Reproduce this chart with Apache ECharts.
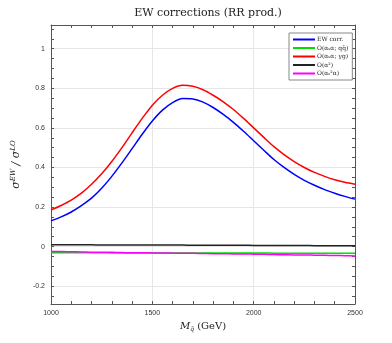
<!DOCTYPE html>
<html>
<head>
<meta charset="utf-8">
<script src="https://cdn.jsdelivr.net/npm/echarts@6/dist/echarts.min.js"></script>
<style>
  html, body { margin: 0; padding: 0; background: #fff; }
  #main { width: 392px; height: 343px; }
</style>
</head>
<body>
<div id="main"></div>
<script>
// squark mass (GeV), every 50 GeV from 1000 to 2500
var masses = [1000, 1050, 1100, 1150, 1200, 1250, 1300, 1350, 1400, 1450, 1500, 1550, 1600, 1650, 1700, 1750,
  1800, 1850, 1900, 1950, 2000, 2050, 2100, 2150, 2200, 2250, 2300, 2350, 2400, 2450, 2500];

// relative corrections sigma^EW / sigma^LO
var ewCorr = [0.13, 0.15, 0.175, 0.207, 0.245, 0.295, 0.355, 0.423, 0.495, 0.568, 0.635, 0.69, 0.728, 0.748, 0.746, 0.73,
  0.703, 0.668, 0.628, 0.583, 0.535, 0.487, 0.44, 0.40, 0.365, 0.335, 0.31, 0.288, 0.27, 0.254, 0.24];
var asAqq = [-0.031, -0.031, -0.031, -0.031, -0.031, -0.031, -0.032, -0.032, -0.032, -0.032, -0.032, -0.032, -0.032, -0.032, -0.032, -0.032,
  -0.032, -0.032, -0.032, -0.032, -0.032, -0.032, -0.033, -0.033, -0.033, -0.033, -0.033, -0.033, -0.033, -0.033, -0.033];
var asAgam = [0.185, 0.208, 0.235, 0.27, 0.315, 0.368, 0.43, 0.50, 0.575, 0.648, 0.715, 0.765, 0.80, 0.815, 0.81, 0.793,
  0.765, 0.732, 0.693, 0.648, 0.60, 0.552, 0.505, 0.465, 0.43, 0.40, 0.375, 0.355, 0.338, 0.325, 0.315];
var alpha2 = [0.009, 0.009, 0.009, 0.009, 0.009, 0.008, 0.008, 0.008, 0.008, 0.008, 0.008, 0.008, 0.008, 0.008, 0.007, 0.007,
  0.007, 0.007, 0.007, 0.007, 0.006, 0.006, 0.006, 0.006, 0.006, 0.006, 0.005, 0.005, 0.005, 0.005, 0.005];
var as2alpha = [-0.025, -0.025, -0.026, -0.027, -0.028, -0.028, -0.029, -0.030, -0.031, -0.031, -0.032, -0.032, -0.033, -0.034, -0.034, -0.035,
  -0.036, -0.036, -0.037, -0.037, -0.038, -0.039, -0.040, -0.041, -0.042, -0.042, -0.043, -0.044, -0.045, -0.046, -0.047];

var seriesNames = ['EW corr.', 'O(αₛα; qq̄)', 'O(αₛα; γg)', 'O(α²)', 'O(αₛ²α)'];
var seriesColors = ['#0000ff', '#00e000', '#ff0000', '#222222', '#ff00ff'];
var seriesData = [ewCorr, asAqq, asAgam, alpha2, as2alpha];

var yLabels = [-0.2, 0, 0.2, 0.4, 0.6, 0.8, 1];
var yTicks = [];
for (var i = -5; i <= 22; i++) yTicks.push(+(i * 0.05).toFixed(2));

function pairs(ys) {
  return masses.map(function (m, i) { return [m, ys[i]]; });
}

var frame = { show: true, onZero: false, lineStyle: { color: '#555', width: 1 } };
var tick = { inside: true, length: 3, lineStyle: { color: '#555' } };
var serif = 'DejaVu Serif';

// extra y axis used only to carry ticks (minor ones included)
function tickAxis(pos, withLine) {
  return {
    type: 'value',
    position: pos,
    min: -0.29,
    max: 1.12,
    axisLine: withLine ? frame : { show: false },
    axisTick: Object.assign({ customValues: yTicks }, tick),
    axisLabel: { show: false },
    splitLine: { show: false }
  };
}

var chart = echarts.init(document.getElementById('main'));

chart.setOption({
  animation: false,
  title: {
    text: 'EW corrections (RR prod.)',
    left: 203,
    textAlign: 'center',
    top: 3,
    textStyle: { fontFamily: serif, fontWeight: 'normal', fontSize: 11, color: '#222' }
  },
  grid: { left: 51, right: 37, top: 25, bottom: 39 },
  legend: {
    left: 289,
    top: 33,
    orient: 'vertical',
    icon: 'rect',
    itemWidth: 22,
    itemHeight: 2,
    itemGap: 1.5,
    padding: [3, 4, 3, 4],
    backgroundColor: '#fff',
    borderColor: '#888',
    borderWidth: 1,
    data: seriesNames,
    textStyle: { fontFamily: serif, fontSize: 6, color: '#222', lineHeight: 7, padding: [0, 0, 0, -3] }
  },
  xAxis: [{
    type: 'value',
    min: 1000,
    max: 2500,
    interval: 500,
    name: '{i|M}{s|q̃} (GeV)',
    nameLocation: 'middle',
    nameGap: 14,
    nameTextStyle: {
      fontFamily: serif, fontSize: 10, color: '#222',
      rich: {
        i: { fontFamily: serif, fontStyle: 'italic', fontSize: 10, color: '#222' },
        s: { fontFamily: serif, fontStyle: 'italic', fontSize: 6, color: '#222', verticalAlign: 'bottom', padding: [6, 0, 0, 0] }
      }
    },
    axisLine: frame,
    axisTick: tick,
    minorTick: { show: true, splitNumber: 5, length: 3, lineStyle: { color: '#555' } },
    axisLabel: {
      fontFamily: 'Liberation Sans', fontSize: 7, color: '#333', margin: 6,
      formatter: function (v) { return String(v); }
    },
    splitLine: { show: true, lineStyle: { color: '#e6e6e6' } }
  }, {
    type: 'value',
    position: 'top',
    min: 1000,
    max: 2500,
    interval: 500,
    axisLine: frame,
    axisTick: tick,
    minorTick: { show: true, splitNumber: 5, length: 3, lineStyle: { color: '#555' } },
    axisLabel: { show: false },
    splitLine: { show: false }
  }],
  yAxis: [{
    type: 'value',
    min: -0.29,
    max: 1.12,
    name: 'σ{sup|EW} / σ{sup|LO}',
    nameLocation: 'middle',
    nameRotate: 90,
    nameGap: 18,
    nameTextStyle: {
      fontFamily: serif, fontStyle: 'italic', fontSize: 11, color: '#222',
      rich: {
        sup: { fontFamily: serif, fontSize: 7, color: '#222', verticalAlign: 'top', padding: [0, 0, 6, 0] }
      }
    },
    axisLine: frame,
    axisTick: { show: false, customValues: yLabels },
    axisLabel: {
      fontFamily: 'Liberation Sans', fontSize: 7, color: '#333', margin: 6, customValues: yLabels,
      formatter: function (v) { return String(v); }
    },
    splitLine: { show: true, lineStyle: { color: '#e6e6e6' } }
  }, tickAxis('left', false), tickAxis('right', true)],
  series: seriesNames.map(function (name, k) {
    return {
      name: name,
      type: 'line',
      data: pairs(seriesData[k]),
      smooth: 0.3,
      symbol: 'none',
      z: k === 3 ? 3 : 2,
      lineStyle: { color: seriesColors[k], width: 1.5 },
      itemStyle: { color: seriesColors[k] }
    };
  })
});
</script>
</body>
</html>
